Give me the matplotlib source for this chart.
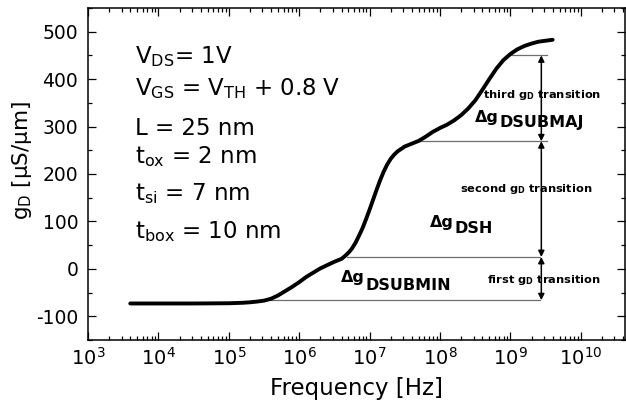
# g_D vs frequency with the three transition levels marked
import numpy as np
import matplotlib
matplotlib.use("Agg")
import matplotlib.pyplot as plt
from matplotlib.ticker import MultipleLocator, FixedLocator, NullFormatter

plt.rcParams["font.family"] = ["DejaVu Sans"]
plt.rcParams["mathtext.default"] = "regular"
plt.rcParams["axes.unicode_minus"] = False

# curve: log10(frequency / Hz) and g_D in uS/um
log_freq = [3.6, 4.0, 4.5, 5.0, 5.2, 5.3, 5.4, 5.5, 5.6, 5.7, 5.8, 5.9, 6.0,
            6.1, 6.2, 6.3, 6.4, 6.5, 6.6, 6.65, 6.7, 6.75, 6.8, 6.85, 6.9, 6.95,
            7.0, 7.05, 7.1, 7.15, 7.2, 7.25, 7.3, 7.35, 7.4, 7.5, 7.6,
            7.7, 7.8, 7.9, 8.0, 8.1, 8.2, 8.3, 8.4, 8.5, 8.6, 8.7, 8.8, 8.9,
            9.0, 9.1, 9.2, 9.3, 9.4, 9.5, 9.6]
g_d = [-73, -73, -73, -72.5, -71.5, -70.5, -69, -67, -63, -56, -47, -38, -28,
       -17, -8, 1, 8, 15, 21, 27, 34, 43, 55, 70, 86, 105,
       125, 146, 167, 187, 205, 220, 232, 241, 248, 258, 264,
       270, 279, 289, 297, 304, 313, 324, 338, 355, 377, 400, 422, 440,
       453, 463, 470, 475, 479, 481, 483]

# horizontal reference levels (uS/um) and their extent in Hz
level_values = [-66, 25, 269, 450]
level_start = [3.8e5, 4.7e6, 4.9e7, 9.0e8]
level_end = [2.6e9, 2.6e9, 3.3e9, 3.3e9]
arrow_freq = 2.75e9

x_decades = [3, 4, 5, 6, 7, 8, 9, 10]

param_lines = [
    r"V$_{DS}$= 1V",
    r"V$_{GS}$ = V$_{TH}$ + 0.8 V",
    "L = 25 nm",
    r"t$_{ox}$ = 2 nm",
    r"t$_{si}$ = 7 nm",
    r"t$_{box}$ = 10 nm",
]
param_baselines = [63, 95, 135, 163, 200, 238]

transition_labels = ["first", "second", "third"]
delta_subs = ["DSUBMIN", "DSH", "DSUBMAJ"]

W, H = 626, 403


def fx(x):
    return x / W


def fy(y):
    return 1 - y / H


fig = plt.figure(figsize=(W / 100, H / 100), dpi=100)
ax = fig.add_axes([fx(88), fy(340), fx(625.5 - 88), (340 - 8) / H])

ax.plot(10 ** np.array(log_freq), g_d, color="black", lw=2.8,
        solid_capstyle="round", solid_joinstyle="round", zorder=3)

for val, x0, x1 in zip(level_values, level_start, level_end):
    ax.plot([x0, x1], [val, val], color="#6e6e6e", lw=0.9, zorder=2)

for lo, hi in zip(level_values[:-1], level_values[1:]):
    ax.annotate("", xy=(arrow_freq, hi), xytext=(arrow_freq, lo),
                arrowprops=dict(arrowstyle="<|-|>", color="black", lw=1.1,
                                mutation_scale=9, shrinkA=0, shrinkB=0),
                zorder=4)

ax.set_xscale("log")
ax.set_xlim(1e3, 10 ** 10.635)
ax.set_ylim(-150, 550)
ax.yaxis.set_major_locator(MultipleLocator(100))
ax.yaxis.set_minor_locator(MultipleLocator(50))
ax.xaxis.set_major_locator(FixedLocator([10.0 ** d for d in x_decades]))
ax.xaxis.set_minor_locator(FixedLocator([m * 10.0 ** d for d in x_decades for m in range(2, 10)]))
ax.xaxis.set_minor_formatter(NullFormatter())

ax.tick_params(which="both", direction="in", top=True, right=True, width=0.9)
ax.tick_params(which="major", length=5.5)
ax.tick_params(which="minor", length=3.2)
ax.tick_params(axis="y", labelsize=13.5, pad=7)
ax.tick_params(axis="x", labelsize=14, pad=5)
for sp in ax.spines.values():
    sp.set_linewidth(1.1)

fig.text(fx(357), fy(395), "Frequency [Hz]", fontsize=16.5, ha="center", va="baseline")
fig.text(fx(22), fy(160), r"g$_D$ [μS/μm]", fontsize=15.5, rotation=90,
         ha="center", va="center")

for txt, yb in zip(param_lines, param_baselines):
    fig.text(fx(135), fy(yb), txt, fontsize=16.5, ha="left", va="baseline")

# small bold transition notes
note_pos = [(487, 283), (460, 192), (483, 98)]
for word, (xp, yp) in zip(transition_labels, note_pos):
    fig.text(fx(xp), fy(yp), word + r" g$_{\mathbf{D}}$ transition", fontsize=8.2,
             fontweight="bold", ha="left", va="baseline", zorder=5)

# delta g labels, subscript nearly the same size as the main text
delta_pos = [(341, 282, 8), (430, 227, 6), (475, 121.7, 5)]
for sub, (xp, yp, drop) in zip(delta_subs, delta_pos):
    main = fig.text(fx(xp), fy(yp), "Δg", fontsize=11.5, fontweight="bold",
                    ha="left", va="baseline")
    ax.annotate(sub, xy=(1, 0), xycoords=main, xytext=(0.5, -drop * 0.72),
                textcoords="offset points", fontsize=11.5, fontweight="bold",
                ha="left", va="bottom", annotation_clip=False)

fig.savefig("out.png", dpi=100)
